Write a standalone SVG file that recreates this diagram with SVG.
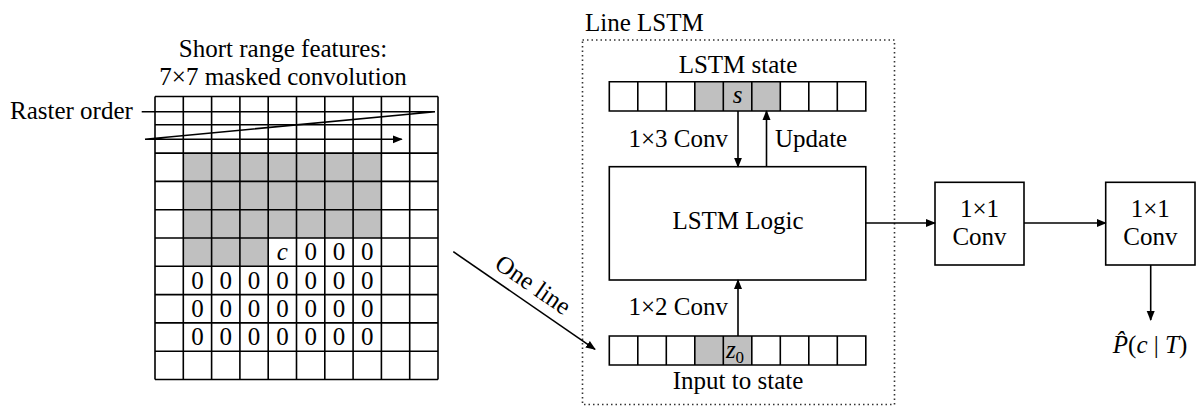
<svg xmlns="http://www.w3.org/2000/svg" width="1202" height="407" viewBox="0 0 1202 407">
<defs>
<style>
text{font-family:"Liberation Serif","Times New Roman",serif;font-size:25px;fill:#000}
.c{text-anchor:middle}
.i{font-style:italic}
.g{stroke:#000;stroke-width:1.6;fill:none}
.box{stroke:#000;stroke-width:1.6;fill:#fff}
.sh{fill:#c0c0c0}
.ln{stroke:#000;stroke-width:1.6;fill:none}
.dot{stroke:#333;stroke-width:1.6;fill:none;stroke-dasharray:1.5 3}
</style>
<marker id="ah" markerUnits="userSpaceOnUse" markerWidth="10" markerHeight="10" viewBox="0 0 10 10" refX="9" refY="5" orient="auto">
<path d="M0,1 L10,5 L0,9 z" fill="#000"/>
</marker>
</defs>
<rect width="1202" height="407" fill="#fff"/>

<g id="grid">
<text class="c" x="283" y="57">Short range features:</text>
<text class="c" x="283" y="85">7×7 masked convolution</text>
<text x="10" y="119">Raster order</text>
<rect x="155" y="96.5" width="283" height="283" fill="#fff"/>
<rect class="sh" x="183.3" y="153.1" width="198.1" height="84.9"/>
<rect class="sh" x="183.3" y="238" width="84.9" height="28.3"/>
<path class="g" d="M155,96.5V379.5M183.3,96.5V379.5M211.6,96.5V379.5M239.9,96.5V379.5M268.2,96.5V379.5M296.5,96.5V379.5M324.8,96.5V379.5M353.1,96.5V379.5M381.4,96.5V379.5M409.7,96.5V379.5M438,96.5V379.5M155,96.5H438M155,124.8H438M155,153.1H438M155,181.4H438M155,209.7H438M155,238H438M155,266.3H438M155,294.6H438M155,322.9H438M155,351.2H438M155,379.5H438"/>
<g class="c">
<text class="c i" x="282.4" y="260">c</text>
<text class="c" x="310.7" y="260">0</text><text class="c" x="339" y="260">0</text><text class="c" x="367.3" y="260">0</text>
<text class="c" x="197.5" y="288.5">0</text><text class="c" x="225.8" y="288.5">0</text><text class="c" x="254.1" y="288.5">0</text><text class="c" x="282.4" y="288.5">0</text><text class="c" x="310.7" y="288.5">0</text><text class="c" x="339" y="288.5">0</text><text class="c" x="367.3" y="288.5">0</text>
<text class="c" x="197.5" y="316.8">0</text><text class="c" x="225.8" y="316.8">0</text><text class="c" x="254.1" y="316.8">0</text><text class="c" x="282.4" y="316.8">0</text><text class="c" x="310.7" y="316.8">0</text><text class="c" x="339" y="316.8">0</text><text class="c" x="367.3" y="316.8">0</text>
<text class="c" x="197.5" y="345.1">0</text><text class="c" x="225.8" y="345.1">0</text><text class="c" x="254.1" y="345.1">0</text><text class="c" x="282.4" y="345.1">0</text><text class="c" x="310.7" y="345.1">0</text><text class="c" x="339" y="345.1">0</text><text class="c" x="367.3" y="345.1">0</text>
</g>
</g>

<g id="line-lstm">
<text x="585" y="31">Line LSTM</text>
<rect class="dot" x="582.5" y="40" width="312" height="364.5"/>
</g>

<g id="lstm-state">
<text class="c" x="738" y="73">LSTM state</text>
<rect class="sh" x="694.8" y="81.7" width="85.5" height="29.3"/>
<path class="g" d="M609.3,81.7H865.8V111H609.3Z M637.8,81.7V111M666.3,81.7V111M694.8,81.7V111M723.3,81.7V111M751.8,81.7V111M780.3,81.7V111M808.8,81.7V111M837.3,81.7V111"/>
<text class="c i" x="737.5" y="103">s</text>
</g>

<g id="lstm-logic">
<rect class="box" x="609.3" y="166.7" width="256.5" height="113.3"/>
<text class="c" x="738" y="229">LSTM Logic</text>
</g>

<g id="input-state">
<rect class="sh" x="694.8" y="336" width="57" height="29"/>
<path class="g" d="M609.3,336H865.8V365H609.3Z M637.8,336V365M666.3,336V365M694.8,336V365M723.3,336V365M751.8,336V365M780.3,336V365M808.8,336V365M837.3,336V365"/>
<text class="c" x="735" y="358" style="font-style:italic">z<tspan font-size="17" dy="5" font-style="normal">0</tspan></text>
<text class="c" x="738" y="389">Input to state</text>
</g>

<g id="conv1">
<rect class="box" x="935" y="182.3" width="89" height="82.7"/>
<text class="c" x="979.5" y="216.7">1×1</text>
<text class="c" x="979.5" y="245">Conv</text>
</g>

<g id="conv2">
<rect class="box" x="1105.7" y="182.3" width="89.3" height="82.7"/>
<text class="c" x="1150.3" y="216.7">1×1</text>
<text class="c" x="1150.3" y="245">Conv</text>
</g>

<g id="output">
<text class="c" x="1150" y="353"><tspan class="i">P̂</tspan>(<tspan class="i">c</tspan> | <tspan class="i">T</tspan>)</text>
</g>

<g id="connectors">
<path class="ln" d="M141.7,111.7H435L145,139.3H401.7" marker-end="url(#ah)"/>
<line class="ln" x1="453.3" y1="251.7" x2="595" y2="349.3" marker-end="url(#ah)"/>
<text class="c" transform="translate(528.5,291.5) rotate(34.6)" x="0" y="0">One line</text>
<line class="ln" x1="738" y1="111" x2="738" y2="166.7" marker-end="url(#ah)"/>
<line class="ln" x1="766.5" y1="166.7" x2="766.5" y2="111" marker-end="url(#ah)"/>
<text x="728" y="147" text-anchor="end">1×3 Conv</text>
<text x="775" y="147">Update</text>
<line class="ln" x1="738" y1="336" x2="738" y2="280" marker-end="url(#ah)"/>
<text x="728" y="315" text-anchor="end">1×2 Conv</text>
<line class="ln" x1="865.8" y1="223" x2="935" y2="223" marker-end="url(#ah)"/>
<line class="ln" x1="1024" y1="223" x2="1105.7" y2="223" marker-end="url(#ah)"/>
<line class="ln" x1="1150.7" y1="265" x2="1150.7" y2="320" marker-end="url(#ah)"/>
</g>
</svg>
